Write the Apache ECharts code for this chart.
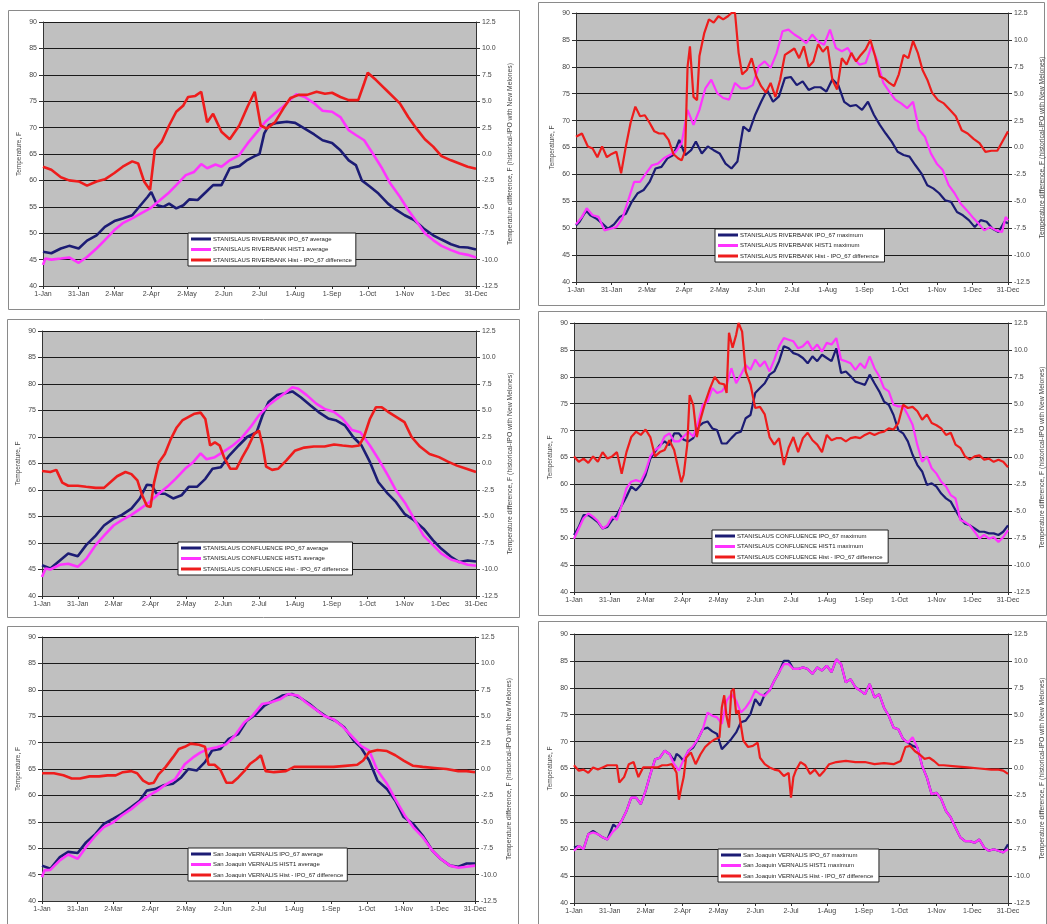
<!DOCTYPE html>
<html><head><meta charset="utf-8">
<script src="https://cdn.jsdelivr.net/npm/echarts@6/dist/echarts.min.js"></script>
<style>html,body{margin:0;padding:0;background:#fff}#c{width:1047px;height:924px}</style>
</head><body><div id="c"></div>
<script>
// ---- tick labels (day of year from 1-Jan) ----
const tickDays = [0,30,60,91,121,152,182,212,243,273,304,334,364];
const tickLabels = ['1-Jan','31-Jan','2-Mar','2-Apr','2-May','2-Jun','2-Jul','1-Aug','1-Sep','1-Oct','1-Nov','1-Dec','31-Dec'];

// ---- series names ----
const p1Names = ['STANISLAUS RIVERBANK IPO_67 average','STANISLAUS RIVERBANK HIST1 average','STANISLAUS RIVERBANK Hist - IPO_67 difference'];
const p2Names = ['STANISLAUS RIVERBANK IPO_67 maximum','STANISLAUS RIVERBANK HIST1 maximum','STANISLAUS RIVERBANK Hist - IPO_67 difference '];
const p3Names = ['STANISLAUS CONFLUENCE IPO_67 average','STANISLAUS CONFLUENCE HIST1 average','STANISLAUS CONFLUENCE Hist - IPO_67 difference'];
const p4Names = ['STANISLAUS CONFLUENCE IPO_67 maximum','STANISLAUS CONFLUENCE HIST1 maximum','STANISLAUS CONFLUENCE Hist - IPO_67 difference '];
const p5Names = ['San Joaquin VERNALIS IPO_67 average','San Joaquin VERNALIS HIST1 average','San Joaquin VERNALIS Hist - IPO_67 difference'];
const p6Names = ['San Joaquin VERNALIS IPO_67 maximum','San Joaquin VERNALIS HIST1 maximum','San Joaquin VERNALIS Hist - IPO_67 difference '];

// ---- Panel 1: Riverbank average ----
const p1Ipo = [[0,46.5],[7,46.2],[15,47.1],[22,47.6],[30,47.1],[37,48.6],[45,49.6],[52,51.2],[60,52.3],[67,52.8],[75,53.4],[82,55.3],[88,56.9],[91,57.8],[96,55.3],[101,55.0],[106,55.6],[112,54.7],[118,55.3],[123,56.4],[130,56.3],[137,57.8],[143,59.1],[150,59.1],[157,62.3],[165,62.7],[172,63.9],[178,64.6],[182,65.0],[186,68.9],[190,70.5],[197,70.9],[205,71.1],[212,70.9],[220,69.8],[228,68.7],[235,67.6],[243,67.1],[250,65.7],[257,63.8],[263,62.9],[268,60.0],[275,58.8],[282,57.5],[290,55.6],[297,54.4],[304,53.4],[312,52.5],[320,50.9],[328,49.6],[335,48.8],[343,47.9],[350,47.4],[357,47.3],[364,46.9]];
const p1Hist = [[0,44.0],[2,45.2],[7,45.0],[15,45.2],[22,45.4],[30,44.4],[37,45.5],[45,47.1],[52,48.7],[60,50.6],[67,51.9],[75,52.8],[82,53.7],[90,54.7],[97,56.0],[105,57.5],[112,59.1],[120,61.0],[127,61.6],[133,63.1],[138,62.3],[145,63.0],[150,62.6],[157,63.8],[165,64.8],[172,67.0],[180,69.2],[187,71.1],[195,72.7],[202,74.0],[208,75.3],[213,76.3],[220,75.8],[228,74.6],[235,73.2],[243,73.0],[250,72.0],[257,69.5],[263,68.6],[270,67.6],[278,64.8],[285,62.3],[292,59.4],[300,56.9],[307,54.4],[314,52.2],[321,50.0],[328,48.7],[335,47.6],[343,46.8],[350,46.2],[357,45.9],[364,45.4]];
const p1Diff = [[0,-1.2],[7,-1.5],[15,-2.2],[22,-2.5],[30,-2.6],[37,-3.0],[45,-2.6],[52,-2.4],[60,-1.8],[67,-1.2],[75,-0.7],[80,-0.9],[85,-2.6],[90,-3.4],[94,0.4],[100,1.2],[106,2.7],[112,4.0],[118,4.6],[122,5.4],[128,5.5],[133,5.9],[138,3.0],[143,3.8],[150,2.1],[157,1.4],[165,2.7],[172,4.5],[178,5.9],[183,2.7],[188,2.4],[195,3.0],[202,4.3],[208,5.3],[215,5.6],[222,5.6],[230,5.9],[237,5.7],[243,5.8],[250,5.4],[257,5.1],[265,5.1],[270,6.7],[273,7.7],[280,7.0],[290,5.9],[300,4.8],[307,3.5],[314,2.4],[321,1.4],[328,0.7],[335,-0.2],[343,-0.6],[350,-0.9],[357,-1.2],[364,-1.4]];

// ---- Panel 2: Riverbank maximum ----
const p2Ipo = [[0,50.5],[3,51.2],[7,52.7],[9,53.2],[12,52.4],[17,51.8],[22,50.9],[27,49.9],[32,50.7],[37,52.1],[42,52.7],[47,54.9],[52,56.5],[57,57.1],[62,58.6],[67,61.1],[72,61.4],[77,63.0],[82,63.6],[87,66.4],[92,63.6],[97,64.5],[101,66.1],[106,63.9],[111,65.2],[116,64.5],[121,63.9],[126,62.0],[131,61.1],[136,62.4],[141,68.9],[146,68.0],[151,71.1],[156,73.5],[161,75.7],[166,73.5],[171,74.5],[176,77.9],[181,78.1],[186,76.6],[191,77.3],[196,75.7],[201,76.2],[206,76.2],[211,75.4],[216,77.7],[221,76.6],[226,73.5],[231,72.7],[236,72.9],[241,72.0],[246,73.5],[251,71.1],[256,69.2],[261,67.6],[266,66.1],[271,64.2],[276,63.6],[281,63.3],[286,61.7],[291,60.2],[296,58.0],[301,57.4],[306,56.5],[311,55.2],[316,54.9],[321,53.0],[326,52.4],[331,51.5],[336,50.2],[341,51.5],[346,51.2],[351,49.9],[356,49.3],[361,51.2],[364,50.9]];
const p2Hist = [[0,50.7],[5,52.1],[9,53.7],[14,52.4],[19,52.1],[24,49.6],[29,49.9],[34,50.2],[39,51.8],[44,55.2],[49,58.6],[54,58.6],[59,60.2],[64,61.7],[69,62.0],[74,63.0],[79,63.6],[84,64.2],[89,65.8],[94,72.0],[99,69.2],[104,72.0],[109,76.0],[114,77.6],[119,75.1],[124,74.2],[129,73.9],[134,77.0],[139,76.0],[144,76.0],[149,76.6],[154,80.1],[159,81.0],[164,79.8],[169,82.5],[174,86.6],[179,86.9],[184,86.0],[189,85.3],[194,84.4],[199,86.0],[204,84.7],[209,84.1],[214,86.9],[219,83.5],[224,82.9],[229,83.5],[234,81.6],[239,80.4],[244,80.7],[249,83.8],[254,81.0],[259,77.0],[264,75.4],[269,73.9],[274,73.2],[279,72.3],[284,73.5],[289,68.3],[294,67.0],[299,63.9],[304,62.0],[309,60.8],[314,58.0],[319,56.5],[324,54.6],[329,53.4],[334,52.1],[339,50.9],[344,49.6],[349,50.2],[354,49.6],[359,49.3],[362,52.1],[364,51.5]];
const p2Diff = [[0,1.0],[5,1.3],[10,0.1],[14,-0.1],[18,-0.9],[22,0.1],[26,-0.9],[30,-0.6],[34,-0.4],[38,-2.4],[42,0.1],[46,2.3],[50,3.8],[54,2.9],[58,3.0],[62,2.3],[66,1.5],[70,1.3],[74,1.3],[78,0.7],[82,-0.6],[86,-1.0],[89,-1.2],[92,-0.3],[94,7.5],[96,9.4],[99,4.7],[102,4.4],[104,8.5],[108,10.6],[112,11.9],[116,11.6],[120,12.2],[124,11.9],[128,12.2],[131,12.5],[134,12.5],[137,8.8],[140,6.8],[144,7.2],[148,8.3],[152,6.6],[156,5.7],[160,5.1],[164,6.0],[168,4.7],[172,6.3],[176,8.6],[180,8.9],[184,9.2],[188,8.3],[192,9.4],[196,7.5],[200,8.0],[204,9.6],[208,8.9],[212,9.4],[216,6.3],[220,5.4],[224,8.3],[228,7.7],[232,8.8],[236,8.0],[240,8.6],[244,9.1],[248,10.0],[252,8.5],[256,6.6],[260,6.4],[264,6.0],[268,5.7],[272,6.8],[276,8.6],[280,8.3],[284,9.9],[288,8.8],[292,7.2],[296,6.3],[300,5.1],[305,4.4],[310,4.1],[315,3.5],[320,2.9],[325,1.6],[330,1.3],[335,0.8],[340,0.4],[345,-0.4],[350,-0.3],[355,-0.3],[360,0.7],[364,1.5]];

// ---- Panel 3: Confluence average ----
const p3Ipo = [[0,45.8],[7,45.2],[15,46.7],[22,48.0],[30,47.5],[37,49.6],[45,51.4],[52,53.3],[60,54.6],[67,55.3],[75,56.5],[82,58.4],[88,61.0],[92,60.9],[96,59.3],[103,59.3],[110,58.4],[117,59.0],[123,60.6],[130,60.6],[137,62.1],[143,64.0],[150,64.3],[157,66.5],[165,68.4],[172,70.0],[180,70.9],[185,74.1],[190,76.6],[197,77.9],[203,78.2],[210,78.6],[217,77.5],[225,76.0],[232,74.7],[240,73.5],[247,73.1],[254,72.2],[261,70.0],[268,68.4],[275,65.3],[282,61.5],[290,59.3],[297,57.7],[304,55.5],[312,54.3],[320,52.7],[328,50.5],[335,48.9],[343,47.4],[350,46.4],[357,46.7],[364,46.5]];
const p3Hist = [[0,43.6],[3,45.2],[7,45.0],[15,45.9],[22,46.1],[30,45.5],[37,47.0],[45,49.6],[52,51.4],[60,53.3],[67,54.3],[75,55.3],[82,56.4],[90,57.7],[97,59.1],[105,60.6],[112,62.1],[120,64.0],[127,65.3],[133,66.9],[138,65.8],[145,66.2],[152,67.2],[160,68.4],[167,69.7],[175,71.9],[182,74.1],[190,76.0],[197,77.2],[205,78.5],[210,79.4],[215,79.1],[222,77.9],[230,76.3],[237,75.3],[245,74.7],[252,73.5],[260,71.3],[267,70.9],[275,68.4],[282,65.9],[290,62.8],[297,59.9],[305,57.4],[312,54.6],[320,51.4],[328,49.6],[335,48.0],[343,46.9],[350,46.4],[357,45.9],[364,45.7]];
const p3Diff = [[0,-0.7],[7,-0.8],[12,-0.6],[17,-1.8],[22,-2.1],[30,-2.1],[37,-2.2],[45,-2.3],[52,-2.3],[58,-1.7],[63,-1.2],[70,-0.8],[75,-1.0],[80,-1.6],[84,-3.0],[88,-4.0],[91,-4.1],[94,-1.8],[98,0.1],[103,0.9],[108,2.3],[113,3.4],[118,4.1],[123,4.4],[128,4.7],[133,4.8],[137,4.2],[141,1.7],[145,2.0],[149,1.7],[153,0.5],[158,-0.5],[163,-0.5],[168,0.6],[173,1.6],[178,2.8],[182,3.1],[185,1.7],[188,-0.3],[193,-0.6],[198,-0.5],[205,0.3],[212,1.2],[220,1.5],[228,1.6],[237,1.6],[245,1.8],[252,1.7],[260,1.6],[266,1.7],[270,2.5],[275,4.2],[280,5.3],[285,5.3],[290,4.9],[297,4.4],[304,3.9],[310,2.5],[317,1.6],[325,0.9],[333,0.6],[340,0.2],[348,-0.2],[356,-0.5],[364,-0.8]];

// ---- Panel 4: Confluence maximum ----
const p4Ipo = [[0,50.6],[4,52.1],[8,54.3],[12,54.3],[16,53.7],[20,53.0],[24,51.8],[28,52.1],[32,53.4],[36,54.3],[40,56.1],[44,57.7],[48,59.6],[52,58.9],[56,59.9],[60,61.7],[64,64.8],[68,66.1],[72,67.3],[76,68.0],[80,67.3],[84,69.5],[88,69.5],[92,68.3],[96,68.0],[100,68.6],[104,70.7],[108,71.4],[112,71.7],[116,70.4],[120,70.1],[124,67.6],[128,67.6],[132,68.6],[136,69.5],[140,69.8],[144,72.3],[148,72.9],[152,77.0],[156,77.9],[160,78.8],[164,80.4],[168,81.0],[172,82.9],[176,85.7],[180,85.3],[184,84.4],[188,84.1],[192,83.5],[196,82.5],[200,83.8],[204,82.9],[208,84.1],[212,83.5],[216,82.9],[220,85.3],[224,80.7],[228,81.0],[232,80.1],[236,79.1],[240,78.8],[244,78.5],[248,80.4],[252,78.8],[256,77.3],[260,75.4],[264,74.8],[268,72.9],[272,70.1],[276,69.5],[280,68.0],[284,65.5],[288,63.6],[292,62.4],[296,59.9],[300,60.2],[304,59.6],[308,58.3],[312,57.4],[316,56.8],[320,55.2],[324,53.7],[328,52.7],[332,52.4],[336,51.8],[340,51.2],[344,51.2],[348,50.9],[352,50.9],[356,50.6],[360,51.2],[364,52.4]];
const p4Hist = [[0,49.9],[4,51.8],[8,53.7],[12,54.6],[16,54.0],[20,53.2],[24,51.8],[28,52.4],[32,54.0],[36,53.4],[40,56.1],[44,59.3],[48,60.5],[52,60.8],[56,60.5],[60,62.4],[64,65.2],[68,66.4],[72,67.0],[76,68.9],[80,69.5],[84,68.0],[88,68.0],[92,68.9],[96,69.8],[100,68.9],[104,71.4],[108,74.8],[112,75.4],[116,77.9],[120,77.0],[124,77.3],[128,78.5],[132,81.6],[136,78.8],[140,80.4],[144,82.2],[148,81.3],[152,83.2],[156,81.9],[160,82.9],[164,81.0],[168,83.2],[172,85.7],[176,87.2],[180,86.9],[184,86.6],[188,85.3],[192,85.7],[196,86.6],[200,85.0],[204,86.0],[208,84.7],[212,86.3],[216,86.0],[220,87.2],[224,83.2],[228,82.9],[232,82.5],[236,81.3],[240,82.5],[244,81.6],[248,83.8],[252,81.6],[256,80.1],[260,77.9],[264,77.3],[268,74.8],[272,74.5],[276,74.5],[280,72.9],[284,71.1],[288,67.3],[292,64.2],[296,65.2],[300,63.0],[304,62.0],[308,60.5],[312,59.6],[316,58.0],[320,57.4],[324,53.4],[328,53.0],[332,52.4],[336,51.2],[340,49.9],[344,50.6],[348,49.9],[352,50.2],[356,49.3],[360,50.2],[364,51.5]];
const p4Diff = [[0,0.1],[4,-0.4],[8,-0.1],[12,-0.5],[16,0.1],[20,-0.4],[24,0.5],[28,-0.1],[32,0.1],[36,0.5],[40,-1.5],[44,0.5],[48,1.9],[52,2.4],[56,2.1],[60,2.6],[64,1.9],[68,0.1],[72,0.5],[76,0.7],[80,1.6],[84,0.7],[88,-1.3],[90,-2.3],[92,-1.6],[95,1.2],[97,5.8],[100,4.9],[103,1.9],[106,3.5],[110,5.1],[114,6.4],[118,7.5],[122,6.9],[126,6.8],[128,6.0],[130,11.6],[133,10.2],[136,11.4],[138,12.5],[141,11.7],[144,8.0],[148,6.8],[152,4.6],[156,4.7],[160,4.0],[164,1.9],[168,1.2],[172,1.8],[176,-0.7],[180,0.9],[184,1.9],[188,0.5],[192,1.8],[196,2.3],[200,1.6],[204,1.2],[208,0.5],[212,2.1],[216,1.6],[220,1.8],[224,1.8],[228,1.5],[232,1.8],[236,1.9],[240,1.8],[244,2.1],[248,2.3],[252,2.1],[256,2.3],[260,2.4],[264,2.7],[268,2.6],[272,3.2],[276,4.9],[280,4.6],[284,4.7],[288,4.3],[292,3.5],[296,4.0],[300,3.2],[304,3.0],[308,2.7],[312,2.1],[316,2.3],[320,1.2],[324,0.9],[328,0.1],[332,-0.2],[336,0.1],[340,0.2],[344,-0.2],[348,-0.1],[352,-0.4],[356,-0.2],[360,-0.4],[364,-0.9]];

// ---- Panel 5: Vernalis average ----
const p5Ipo = [[0,46.7],[7,46.1],[15,48.3],[22,49.3],[30,49.1],[37,51.1],[45,52.7],[52,54.6],[60,55.6],[67,56.5],[75,57.8],[82,59.0],[88,60.9],[95,61.2],[102,61.9],[110,62.2],[117,63.4],[123,65.0],[130,64.7],[137,66.3],[143,68.5],[150,68.8],[157,70.7],[165,71.6],[172,74.1],[180,75.4],[187,77.0],[195,78.0],[202,78.9],[210,79.2],[217,78.5],[225,77.3],[232,76.0],[240,74.8],[247,74.1],[254,72.9],[262,70.4],[268,69.1],[275,66.6],[282,62.8],[290,61.2],[297,59.0],[304,55.9],[312,54.6],[320,52.4],[328,49.6],[335,48.0],[343,46.7],[350,46.5],[357,47.1],[364,47.1]];
const p5Hist = [[0,44.5],[2,45.8],[7,45.9],[15,47.7],[22,48.8],[30,48.0],[37,50.2],[45,52.4],[52,54.0],[60,54.9],[67,56.2],[75,57.4],[82,58.7],[90,60.0],[97,60.9],[105,62.2],[112,63.1],[120,65.9],[127,67.2],[133,68.1],[140,68.8],[147,69.1],[155,69.7],[162,71.3],[170,73.8],[177,75.1],[185,77.3],[192,77.6],[200,78.2],[207,79.2],[215,78.9],[222,77.6],[230,76.3],[237,75.1],[245,74.4],[252,73.2],[260,71.3],[268,69.4],[275,68.5],[282,64.7],[290,62.2],[297,59.3],[305,56.2],[312,54.0],[320,52.1],[328,49.6],[335,48.0],[343,46.7],[350,46.3],[357,46.5],[364,46.7]];
const p5Diff = [[0,-0.4],[10,-0.4],[18,-0.6],[25,-0.9],[32,-0.9],[40,-0.7],[48,-0.7],[55,-0.6],[62,-0.6],[68,-0.3],[75,-0.2],[80,-0.4],[85,-1.1],[90,-1.4],[94,-1.3],[98,-0.5],[104,0.2],[110,1.1],[115,1.9],[120,2.1],[125,2.4],[132,2.3],[137,2.1],[140,0.4],[145,0.4],[150,-0.1],[155,-1.3],[160,-1.3],[165,-0.8],[170,-0.2],[175,0.5],[180,0.9],[184,1.3],[188,-0.2],[195,-0.3],[205,-0.2],[212,0.2],[222,0.2],[232,0.2],[245,0.2],[255,0.3],[265,0.4],[270,0.8],[275,1.6],[282,1.8],[290,1.7],[297,1.3],[304,0.8],[312,0.3],[320,0.2],[330,0.1],[340,0.0],[350,-0.2],[357,-0.2],[364,-0.3]];

// ---- Panel 6: Vernalis maximum ----
const p6Ipo = [[0,50.3],[4,50.6],[8,50.0],[12,52.8],[16,53.4],[20,52.8],[24,52.2],[28,51.8],[33,54.6],[36,54.0],[40,55.3],[44,57.1],[48,59.6],[52,59.6],[56,58.4],[60,60.8],[64,63.9],[68,66.7],[72,67.0],[76,68.3],[80,67.7],[84,66.4],[86,67.7],[88,67.4],[92,66.4],[96,68.3],[100,68.9],[104,70.5],[108,72.3],[112,72.6],[116,71.9],[120,71.4],[124,68.6],[128,69.5],[132,70.5],[136,71.7],[140,73.6],[144,73.9],[148,75.1],[152,77.9],[156,76.7],[160,78.8],[164,79.5],[168,81.3],[172,82.9],[176,85.0],[180,85.0],[184,83.5],[188,83.5],[192,83.8],[196,83.5],[200,82.6],[204,83.8],[208,83.2],[212,84.1],[216,82.9],[220,85.3],[224,84.4],[228,81.0],[232,81.6],[236,80.1],[240,79.5],[244,78.8],[248,80.7],[252,78.2],[256,78.8],[260,76.3],[264,74.8],[268,72.6],[272,72.3],[276,70.5],[280,69.8],[284,69.2],[288,68.9],[292,65.5],[296,63.3],[300,60.2],[304,60.5],[308,59.3],[312,57.1],[316,55.9],[320,54.0],[324,52.2],[328,51.5],[332,51.5],[336,51.2],[340,51.8],[344,50.3],[348,49.7],[352,50.0],[356,49.7],[360,49.4],[364,50.9]];
const p6Hist = [[0,49.7],[4,50.6],[8,50.0],[12,52.8],[16,53.1],[20,52.8],[24,52.2],[28,51.8],[32,53.1],[36,54.0],[40,55.3],[44,57.1],[48,59.6],[52,59.6],[56,58.4],[60,60.8],[64,63.9],[68,66.7],[72,67.0],[76,68.3],[80,67.7],[84,65.8],[88,64.6],[92,66.7],[96,68.3],[100,69.2],[104,70.5],[108,72.3],[112,75.4],[116,74.8],[120,74.5],[124,73.3],[128,77.6],[132,78.8],[136,77.6],[140,75.4],[144,76.3],[148,77.6],[152,79.5],[156,78.8],[160,78.5],[164,79.5],[168,81.3],[172,82.9],[176,84.4],[180,84.4],[184,83.5],[188,83.5],[192,83.8],[196,83.5],[200,82.6],[204,83.8],[208,83.2],[212,84.1],[216,82.9],[220,85.3],[224,84.4],[228,81.0],[232,81.6],[236,80.1],[240,79.5],[244,78.8],[248,80.7],[252,78.2],[256,78.8],[260,76.3],[264,74.8],[268,72.6],[272,72.3],[276,70.5],[280,69.8],[284,70.8],[288,68.9],[292,65.5],[296,63.3],[300,60.2],[304,60.5],[308,59.3],[312,57.1],[316,55.9],[320,54.0],[324,52.2],[328,51.5],[332,51.5],[336,51.2],[340,51.8],[344,50.3],[348,49.7],[352,50.0],[356,49.7],[360,49.4],[364,50.0]];
const p6Diff = [[0,0.3],[4,-0.2],[8,-0.1],[12,-0.4],[16,0.1],[20,-0.1],[24,0.1],[28,0.3],[32,0.3],[36,0.3],[38,-1.3],[42,-0.8],[46,0.4],[50,0.6],[54,-0.8],[58,0.1],[62,0.1],[66,0.1],[70,0.1],[74,0.3],[78,0.3],[82,0.4],[86,-0.4],[88,-2.9],[90,-1.8],[92,-0.8],[94,1.0],[98,1.5],[102,0.4],[106,1.3],[110,2.0],[114,2.4],[118,2.7],[122,2.9],[124,5.7],[126,6.8],[128,4.8],[130,3.8],[132,7.2],[134,7.4],[136,5.1],[138,5.4],[142,2.6],[146,2.0],[150,2.1],[154,2.4],[156,1.0],[160,0.4],[164,0.1],[168,-0.1],[172,-0.2],[176,-0.7],[180,-0.4],[182,-2.7],[184,-0.8],[186,-0.2],[190,0.6],[194,0.3],[198,-0.5],[202,-0.1],[206,-0.7],[210,-0.2],[214,0.4],[220,0.6],[228,0.7],[236,0.6],[244,0.6],[252,0.4],[260,0.5],[268,0.4],[274,0.7],[278,2.0],[282,2.1],[286,1.6],[290,1.3],[294,0.9],[298,1.0],[302,0.7],[306,0.3],[310,0.3],[320,0.2],[330,0.1],[340,0.0],[350,-0.1],[356,-0.1],[360,-0.2],[364,-0.5]];

// ---- layout ----
const FONT = 'Liberation Sans';
const panels = [
  {grid:{left:43,top:22,width:433,height:264}, names:p1Names, data:[p1Ipo,p1Hist,p1Diff], leg:{left:188,top:233}, lw:2.6, border:[8,10,511,299]},
  {grid:{left:576,top:13,width:439,height:269}, names:p2Names, data:[p2Ipo,p2Hist,p2Diff], leg:{left:715,top:229}, lw:2.2, border:[538,2,506,303]},
  {grid:{left:42,top:331,width:434,height:265}, names:p3Names, data:[p3Ipo,p3Hist,p3Diff], leg:{left:178,top:542}, lw:2.6, border:[7,319,512,298]},
  {grid:{left:574,top:323,width:440,height:269}, names:p4Names, data:[p4Ipo,p4Hist,p4Diff], leg:{left:712,top:530}, lw:2.2, border:[538,311,508,304]},
  {grid:{left:42,top:637,width:433,height:264}, names:p5Names, data:[p5Ipo,p5Hist,p5Diff], leg:{left:188,top:848}, lw:2.6, border:[7,626,511,300]},
  {grid:{left:574,top:634,width:438,height:269}, names:p6Names, data:[p6Ipo,p6Hist,p6Diff], leg:{left:718,top:849}, lw:2.2, border:[538,621,508,305]}
];
const colors = ['#1c1c74','#ff33ff','#ee1c1c'];

const option = {animation:false, backgroundColor:'#fff', grid:[], xAxis:[], yAxis:[], series:[], legend:[], graphic:[]};
const lblStyle = {fontSize:7, color:'#444', fontFamily:FONT};
panels.forEach((p,i)=>{
  option.grid.push(Object.assign({show:true, backgroundColor:'#c0c0c0', borderWidth:0}, p.grid));
  option.xAxis.push({type:'value', gridIndex:i, min:0, max:364,
    axisLine:{show:true, onZero:false, lineStyle:{color:'#333', width:1}},
    axisTick:{show:true, customValues:tickDays, length:3, inside:false, lineStyle:{color:'#333'}},
    axisLabel:Object.assign({customValues:tickDays, margin:5, formatter:v=>tickLabels[tickDays.indexOf(Math.round(v))]||''}, lblStyle),
    splitLine:{show:false}});
  option.yAxis.push({type:'value', gridIndex:i, position:'left', min:40, max:90, interval:5,
    name:'Temperature, F', nameLocation:'middle', nameRotate:90, nameGap:20,
    nameTextStyle:{fontSize:6.5, color:'#444', fontFamily:FONT},
    axisLine:{show:true, lineStyle:{color:'#333'}}, axisTick:{show:true, length:4, lineStyle:{color:'#333'}},
    axisLabel:Object.assign({margin:6}, lblStyle),
    splitLine:{show:true, lineStyle:{color:'#1a1a1a', width:1}}});
  option.yAxis.push({type:'value', gridIndex:i, position:'right', min:-12.5, max:12.5, interval:2.5,
    name:'Temperature difference, F (historical-IPO with New Melones)', nameLocation:'middle', nameRotate:90, nameGap:31,
    nameTextStyle:{fontSize:6.8, color:'#444', fontFamily:FONT},
    axisLine:{show:true, lineStyle:{color:'#333'}}, axisTick:{show:true, length:4, lineStyle:{color:'#333'}},
    axisLabel:Object.assign({margin:6, formatter:v=>v.toFixed(1)}, lblStyle),
    splitLine:{show:false}});
  p.names.forEach((nm,k)=>{
    option.series.push({type:'line', name:nm, xAxisIndex:i, yAxisIndex:2*i+(k===2?1:0),
      data:p.data[k], showSymbol:false, symbol:'none', clip:true,
      lineStyle:{color:colors[k], width:p.lw}, itemStyle:{color:colors[k]}, z:2+k});
  });
  option.legend.push({orient:'vertical', left:p.leg.left, top:p.leg.top, data:p.names, selectedMode:false,
    backgroundColor:'#fff', borderColor:'#222', borderWidth:1, padding:[3,4,3,3], itemGap:4.5,
    itemWidth:20, itemHeight:3, icon:'rect',
    textStyle:{fontSize:6, color:'#222', fontFamily:FONT, padding:[0,0,0,-3]}});
  const b = p.border;
  option.graphic.push({type:'rect', shape:{x:b[0]+0.5,y:b[1]+0.5,width:b[2],height:b[3]}, style:{fill:null, stroke:'#8a8a8a', lineWidth:1}, silent:true, z:-1});
});

const chart = echarts.init(document.getElementById('c'), null, {renderer:'canvas'});
chart.setOption(option);
</script>
</body></html>
